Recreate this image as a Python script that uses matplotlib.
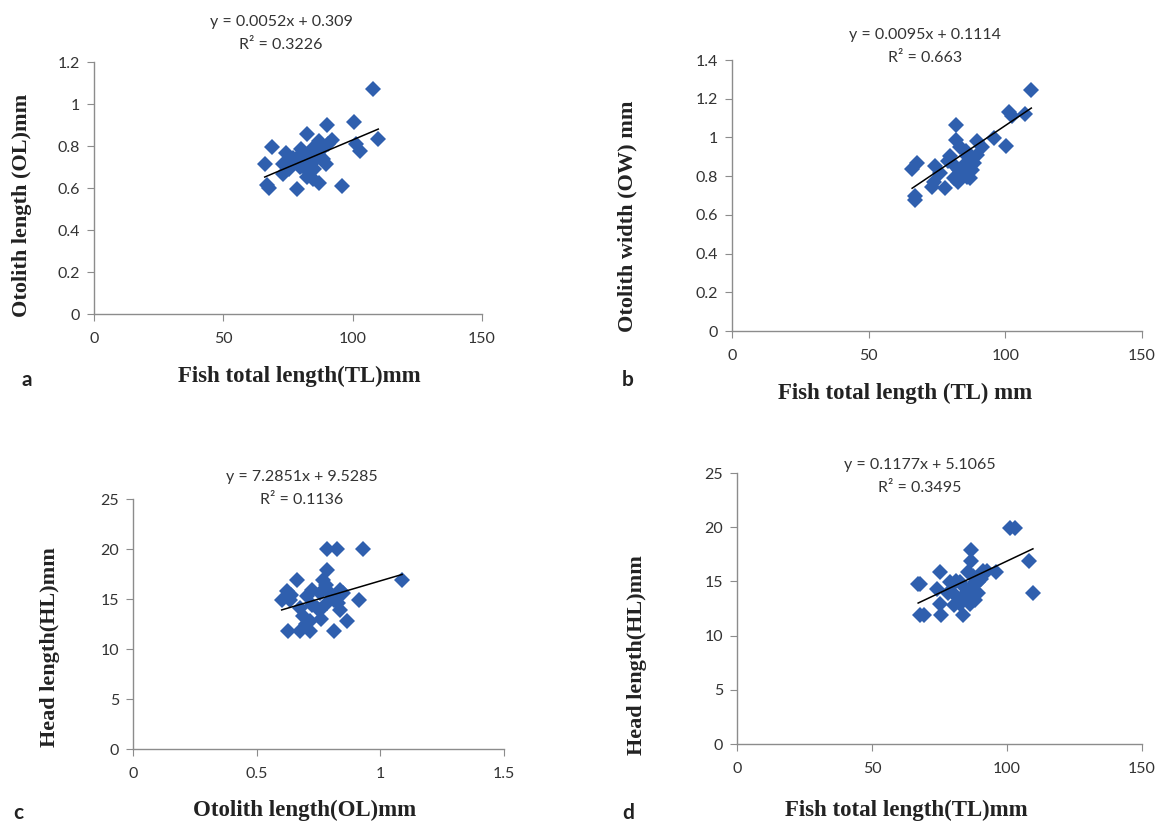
import numpy as np
import matplotlib.pyplot as plt
from matplotlib.ticker import FuncFormatter


# panel a: fish total length vs otolith length
a_tl = [107.7, 100.6, 89.9, 109.9, 82.5, 92.0, 68.7, 101.2, 102.8, 74.2, 80.0, 87.0,
        84.5, 88.4, 66.0, 72.9, 78.0, 81.9, 85.8, 89.6, 80.6, 75.5, 72.9, 83.2, 82.5,
        84.5, 87.0, 67.0, 67.7, 78.3, 95.7, 87.1, 88.4, 76.5, 79.5, 83.5, 86.0, 90.5,
        84.0, 77.0, 85.0]
a_ol = [1.071, 0.913, 0.899, 0.835, 0.855, 0.828, 0.797, 0.808, 0.776, 0.765, 0.787, 0.824,
        0.792, 0.792, 0.713, 0.713, 0.737, 0.753, 0.737, 0.713, 0.706, 0.690, 0.666, 0.674,
        0.650, 0.643, 0.622, 0.614, 0.598, 0.595, 0.611, 0.753, 0.737, 0.720, 0.700, 0.760,
        0.780, 0.810, 0.725, 0.745, 0.690]

# panel b: fish total length vs otolith width
b_tl = [109.5, 101.2, 107.3, 82.1, 95.7, 100.4, 82.1, 89.6, 91.5, 83.5, 89.6, 79.9, 86.0,
        67.7, 65.9, 74.4, 81.1, 84.8, 87.8, 86.0, 81.1, 73.8, 87.2, 73.2, 78.0, 82.6,
        67.1, 67.1, 76.2, 82.9, 102.5, 85.5, 88.5, 79.0]
b_ow = [1.243, 1.129, 1.122, 1.066, 0.997, 0.957, 0.988, 0.979, 0.953, 0.953, 0.910, 0.902,
        0.902, 0.867, 0.836, 0.850, 0.859, 0.859, 0.833, 0.798, 0.790, 0.772, 0.790, 0.746,
        0.738, 0.772, 0.695, 0.678, 0.815, 0.833, 1.110, 0.930, 0.870, 0.880]

# panel c: otolith length vs head length
c_ol = [0.786, 0.824, 0.928, 0.786, 1.088, 0.662, 0.770, 0.622, 0.723, 0.838, 0.601, 0.635,
        0.703, 0.757, 0.811, 0.912, 0.676, 0.743, 0.784, 0.838, 0.689, 0.716, 0.865, 0.628,
        0.676, 0.714, 0.814, 0.757, 0.640, 0.725, 0.760, 0.800, 0.830, 0.850, 0.700, 0.780,
        0.820]
c_hl = [20.0, 20.0, 20.0, 17.9, 16.9, 16.9, 16.9, 15.8, 15.9, 15.9, 14.9, 14.9,
        15.3, 15.6, 14.9, 14.9, 14.1, 14.1, 14.6, 13.9, 13.3, 12.8, 12.8, 11.8,
        11.8, 11.8, 11.8, 13.9, 15.4, 14.4, 13.0, 15.5, 14.6, 15.6, 12.5, 16.4, 15.0]

# panel d: fish total length vs head length
d_tl = [101.0, 102.8, 86.8, 86.8, 108.1, 109.6, 95.8, 91.1, 75.1, 85.6, 67.1, 67.7, 78.8,
        82.5, 88.1, 73.9, 80.0, 85.0, 89.3, 75.1, 82.5, 86.2, 67.7, 69.2, 75.4, 83.7, 89.3,
        81.0, 84.0, 87.5, 90.5, 78.0, 83.0, 86.0, 80.5, 92.5, 88.0]
d_hl = [19.9, 19.9, 17.9, 16.9, 16.9, 13.9, 15.9, 16.0, 15.9, 15.9, 14.8, 14.8, 14.9,
        14.9, 14.9, 14.3, 13.9, 13.9, 13.9, 12.9, 12.9, 12.9, 11.9, 11.9, 11.9, 11.9, 14.9,
        15.0, 14.5, 15.5, 15.2, 13.9, 13.5, 14.2, 12.8, 16.0, 13.3]

# trendline coefficients as printed on the chart
fits = {'a': (0.0052, 0.309, '0.3226'), 'b': (0.0095, 0.1114, '0.663'),
        'c': (7.2851, 9.5285, '0.1136'), 'd': (0.1177, 5.1065, '0.3495')}

blue = '#2f5fae'
serif = ['Liberation Serif', 'DejaVu Serif']
sans = ['Lato', 'DejaVu Sans']

fig = plt.figure(figsize=(11.6, 8.21), dpi=100)


def px(x, y):
    return x / 1160, 1 - y / 821


def panel(rect, xs, ys, key, xmax, ymax, xstep, ystep, xlab, ylab,
          eq_pos, ylab_pos, xlab_pos, let_pos):
    ax = fig.add_axes(rect)
    ax.plot(xs, ys, 'D', color=blue, markersize=8.3, markeredgewidth=0, zorder=3)
    k, b0, r2 = fits[key]
    xx = np.array([min(xs), max(xs)])
    ax.plot(xx, k * xx + b0, color='black', linewidth=1.1, zorder=4)
    ax.set_xlim(0, xmax)
    ax.set_ylim(0, ymax)
    ax.set_xticks(np.arange(0, xmax + xstep / 2, xstep))
    ax.set_yticks(np.arange(0, ymax + ystep / 2, ystep))
    fmt = FuncFormatter(lambda v, p: '%g' % round(v, 3))
    ax.xaxis.set_major_formatter(fmt)
    ax.yaxis.set_major_formatter(fmt)
    for s in ['top', 'right']:
        ax.spines[s].set_visible(False)
    for s in ['left', 'bottom']:
        ax.spines[s].set_color('#8c8c8c')
        ax.spines[s].set_linewidth(1.0)
    ax.tick_params(axis='both', direction='out', length=5, color='#8c8c8c',
                   labelsize=11.5, labelcolor='#333333')
    ax.tick_params(axis='x', pad=8)
    ax.tick_params(axis='y', pad=5)
    for t in ax.get_xticklabels() + ax.get_yticklabels():
        t.set_family(sans)
    sign = '+' if b0 >= 0 else '-'
    x1, y1 = px(*eq_pos)
    fig.text(x1, y1, 'y = %gx %s %g' % (k, sign, b0), ha='center', va='center',
             fontsize=11.5, color='#333333', family=sans)
    x2, y2 = px(eq_pos[0], eq_pos[1] + 23)
    fig.text(x2, y2, 'R² = ' + r2, ha='center', va='center',
             fontsize=11.5, color='#333333', family=sans)
    fig.text(*px(*ylab_pos), ylab, rotation=90, ha='center', va='center',
             fontsize=16, fontweight='bold', family=serif, color='#222222')
    fig.text(*px(*xlab_pos), xlab, ha='center', va='center',
             fontsize=16.5, fontweight='bold', family=serif, color='#222222')
    fig.text(*px(*let_pos), key, ha='center', va='center',
             fontsize=15, fontweight='bold', family=sans, color='#222222')
    return ax


panel([94 / 1160, 1 - 314 / 821, 388 / 1160, 252 / 821], a_tl, a_ol, 'a', 150, 1.2, 50, 0.2,
      'Fish total length(TL)mm', 'Otolith length (OL)mm',
      (281, 22), (22, 205), (299, 376), (27, 380))
panel([732 / 1160, 1 - 331 / 821, 410 / 1160, 271 / 821], b_tl, b_ow, 'b', 150, 1.4, 50, 0.2,
      'Fish total length (TL) mm', 'Otolith width (OW) mm',
      (925, 35), (627, 216), (905, 393), (628, 380))
panel([133 / 1160, 1 - 749 / 821, 371 / 1160, 250 / 821], c_ol, c_hl, 'c', 1.5, 25, 0.5, 5,
      'Otolith length(OL)mm', 'Head length(HL)mm',
      (302, 477), (50, 647), (305, 810), (18, 813))
panel([737 / 1160, 1 - 744 / 821, 405 / 1160, 271 / 821], d_tl, d_hl, 'd', 150, 25, 50, 5,
      'Fish total length(TL)mm', 'Head length(HL)mm',
      (920, 465), (637, 655), (906, 810), (628, 813))

plt.savefig('out.png', dpi=100)
